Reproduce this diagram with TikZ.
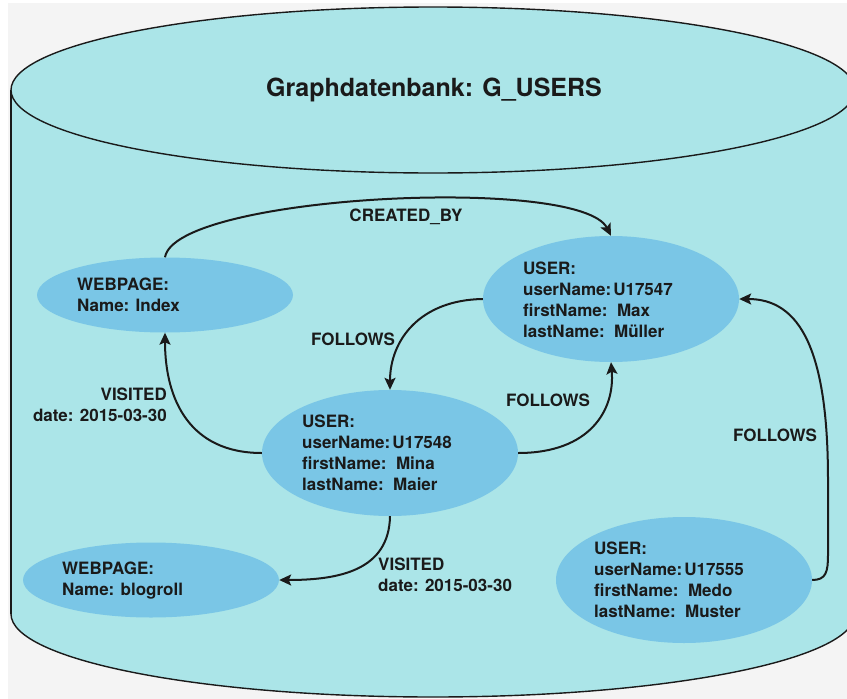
\documentclass[tikz,border=0pt]{standalone}
\usepackage{fontspec}
\setmainfont{TeX Gyre Heros}
\usetikzlibrary{shapes.geometric,arrows.meta}
\definecolor{drum}{HTML}{ABE5E8}
\definecolor{entity}{HTML}{7AC6E6}
\definecolor{pagebg}{HTML}{F4F4F4}
\definecolor{ink}{HTML}{1A1A1A}

\begin{document}
\begin{tikzpicture}[x=1pt,y=-1pt,
  entity/.style={ellipse, fill=entity, draw=none, minimum width=256pt, minimum height=126pt, inner sep=0pt},
  page/.style={entity, minimum height=75pt},
  info/.style={anchor=west, inner sep=0pt, align=left, font=\fontsize{17}{21}\selectfont\bfseries, text=ink},
  lbl/.style={inner sep=0pt, font=\fontsize{17}{21}\selectfont\bfseries, text=ink},
  rel/.style={line width=2pt, draw=ink, -{Stealth[length=12pt,width=11pt,inset=2.5pt]}},
  rim/.style={line width=1.4pt, draw=ink}
]

\useasboundingbox (0,0) rectangle (847,699);
\fill[white] (0,0) rectangle (847,699);
\fill[pagebg] (8,3) rectangle (847,699);

% database drum
\fill[drum] (11,90) rectangle (855,614);
\fill[drum] (433,614) ellipse[x radius=422pt, y radius=83pt];
\begin{scope}
  \clip (0,614) rectangle (847,699);
  \draw[rim] (433,614) ellipse[x radius=422pt, y radius=83pt];
\end{scope}
\draw[rim] (11,90) -- (11,614);
\filldraw[rim, fill=drum] (433,90) ellipse[x radius=422pt, y radius=83pt];

\node[font=\fontsize{25}{30}\selectfont\bfseries, text=ink] (title) at (434,90) {Graphdatenbank: G\_USERS};

% entities
\node[page] (idx) at (165,295) {};
\node[entity] (max) at (611,299) {};
\node[entity] (mina) at (390,453) {};
\node[page] (blog) at (151,580) {};
\node[entity] (medo) at (684,580) {};

\node[info] (idxT) at (77,295) {WEBPAGE:\\Name: Index};
\node[info] (maxT) at (523,300) {USER:\\userName:\hspace{2pt}U17547\\firstName:\ \ Max\\lastName:\ \ Müller};
\node[info] (minaT) at (302,453) {USER:\\userName:\hspace{2pt}U17548\\firstName:\ \ Mina\\lastName:\ \ Maier};
\node[info] (blogT) at (62,581) {WEBPAGE:\\Name: blogroll};
\node[info] (medoT) at (594,580) {USER:\\userName:\hspace{2pt}U17555\\firstName:\ \ Medo\\lastName:\ \ Muster};

% relationships
\draw[rel] (idx.north) .. controls (175,195) and (580,175) .. (max.north);
\draw[rel] (max.west) .. controls (420,300) and (390,340) .. (mina.north);
\draw[rel] (mina.west) .. controls (190,453) and (165,400) .. (idx.south);
\draw[rel] (mina.east) .. controls (590,453) and (615,410) .. (max.south);
\draw[rel] (mina.south) .. controls (389,570) and (340,580) .. (blog.east);
\draw[rel] (medo.east) .. controls (826,580) and (828,572) .. (828,555) -- (828,480)
  .. controls (828,350) and (800,299) .. (max.east);

% relationship labels
\node[lbl] (created) at (406,217) {CREATED\_BY};
\node[lbl] (follows1) at (353,339) {FOLLOWS};
\node[lbl, align=right, anchor=east] (visited1) at (167,405) {VISITED\\date: 2015-03-30};
\node[lbl] (follows2) at (548,400) {FOLLOWS};
\node[lbl] (follows3) at (775,435) {FOLLOWS};
\node[lbl, align=left, anchor=west] (visited2) at (378,575) {VISITED\\date: 2015-03-30};
\end{tikzpicture}
\end{document}
